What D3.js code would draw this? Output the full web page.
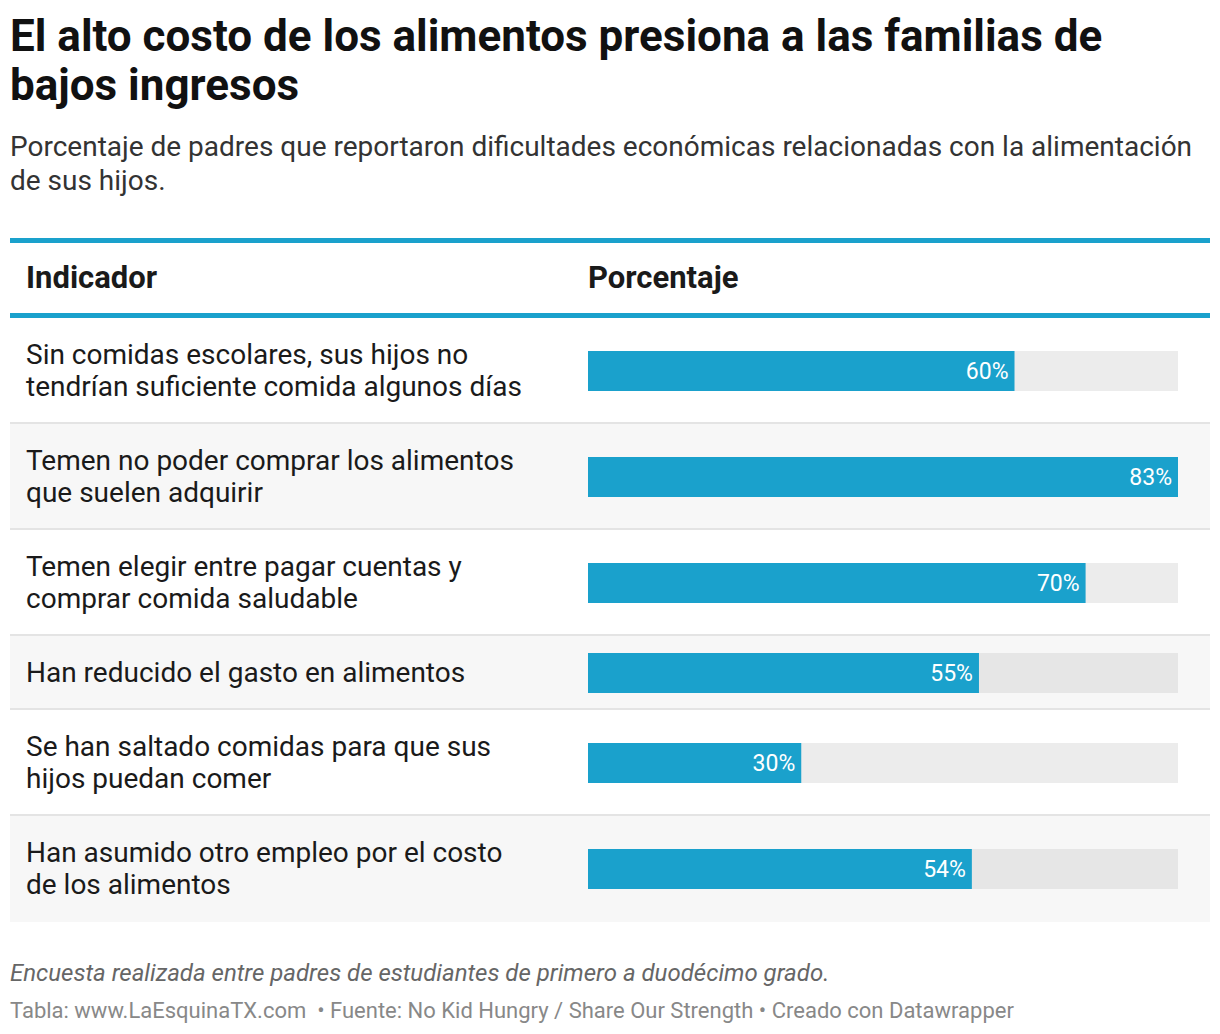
<!DOCTYPE html>
<html>
<head>
<meta charset="utf-8">
<script src="https://cdn.jsdelivr.net/npm/d3@7"></script>
<style>
  body { margin: 0; background: #fff; font-family: Roboto, sans-serif; }
</style>
</head>
<body>
<div id="chart"></div>
<script>
// data
var titleLines = ["El alto costo de los alimentos presiona a las familias de", "bajos ingresos"];
var subtitleLines = ["Porcentaje de padres que reportaron dificultades económicas relacionadas con la alimentación", "de sus hijos."];
var headers = ["Indicador", "Porcentaje"];
var indicators = [
  ["Sin comidas escolares, sus hijos no", "tendrían suficiente comida algunos días"],
  ["Temen no poder comprar los alimentos", "que suelen adquirir"],
  ["Temen elegir entre pagar cuentas y", "comprar comida saludable"],
  ["Han reducido el gasto en alimentos"],
  ["Se han saltado comidas para que sus", "hijos puedan comer"],
  ["Han asumido otro empleo por el costo", "de los alimentos"]
];
var values = [60, 83, 70, 55, 30, 54];
var note = "Encuesta realizada entre padres de estudiantes de primero a duodécimo grado.";
var source = "Tabla: www.LaEsquinaTX.com  • Fuente: No Kid Hungry / Share Our Strength • Creado con Datawrapper";

var W = 1220, H = 1034;
var blue = "#1aa1cc";

var svg = d3.select("#chart").append("svg")
  .attr("width", W).attr("height", H);

// title
svg.append("g").selectAll("text").data(titleLines).enter().append("text")
  .attr("x", 10).attr("y", function(d, i) { return 51 + i * 49; })
  .attr("font-size", 44).attr("font-weight", 700).attr("fill", "#111")
  .text(function(d) { return d; });

svg.append("g").selectAll("text").data(subtitleLines).enter().append("text")
  .attr("x", 10).attr("y", function(d, i) { return 156 + i * 34; })
  .attr("font-size", 28).attr("fill", "#333")
  .text(function(d) { return d; });

// table header
svg.append("rect").attr("x", 10).attr("y", 238).attr("width", 1200).attr("height", 5).attr("fill", blue);
svg.append("rect").attr("x", 10).attr("y", 313).attr("width", 1200).attr("height", 5).attr("fill", blue);
svg.selectAll(".hdr").data(headers).enter().append("text")
  .attr("class", "hdr")
  .attr("x", function(d, i) { return i ? 588 : 26; })
  .attr("y", 288)
  .attr("font-size", 31).attr("font-weight", 700).attr("fill", "#1a1a1a")
  .text(function(d) { return d; });

// rows
var rows = [];
var rowTop = 318;
indicators.forEach(function(lines, i) {
  var h = 42 + 32 * lines.length;
  rows.push({ lines: lines, value: values[i], y: rowTop, h: h, i: i });
  rowTop += h;
});

var x = d3.scaleLinear().domain([0, d3.max(values)]).range([588, 1178]);

var g = svg.selectAll(".row").data(rows).enter().append("g").attr("class", "row");

g.append("rect")
  .attr("x", 10).attr("y", function(d) { return d.y; })
  .attr("width", 1200).attr("height", function(d) { return d.h; })
  .attr("fill", function(d) { return d.i % 2 ? "#f7f7f7" : "#fff"; });

g.filter(function(d) { return d.i < rows.length - 1; }).append("rect")
  .attr("x", 10).attr("y", function(d) { return d.y + d.h - 2; })
  .attr("width", 1200).attr("height", 2).attr("fill", "#e4e4e4");

g.each(function(d) {
  var mid = d.y + d.h / 2;
  var n = d.lines.length;
  d3.select(this).selectAll("text.lbl").data(d.lines).enter().append("text")
    .attr("class", "lbl")
    .attr("x", 26)
    .attr("y", function(t, j) { return mid + (j - (n - 1) / 2) * 32 + 9; })
    .attr("font-size", 28).attr("fill", "#1a1a1a")
    .text(function(t) { return t; });
});

g.append("rect")
  .attr("x", x(0)).attr("y", function(d) { return d.y + d.h / 2 - 20; })
  .attr("width", x(d3.max(values)) - x(0)).attr("height", 40)
  .attr("fill", function(d) { return d.i % 2 ? "#e6e6e6" : "#ececec"; });

g.append("rect")
  .attr("x", x(0)).attr("y", function(d) { return d.y + d.h / 2 - 20; })
  .attr("width", function(d) { return x(d.value) - x(0); }).attr("height", 40)
  .attr("fill", blue);

g.append("text")
  .attr("x", function(d) { return x(d.value) - 6; })
  .attr("y", function(d) { return d.y + d.h / 2 + 8; })
  .attr("text-anchor", "end")
  .attr("font-size", 23).attr("fill", "#fff")
  .text(function(d) { return d.value + "%"; });

// footer
svg.append("text").attr("x", 10).attr("y", 981)
  .attr("font-size", 24).attr("font-style", "italic").attr("fill", "#666")
  .text(note);
svg.append("text").attr("x", 10).attr("y", 1018)
  .attr("font-size", 22).attr("fill", "#888")
  .attr("xml:space", "preserve").style("white-space", "pre")
  .text(source);
</script>
</body>
</html>
